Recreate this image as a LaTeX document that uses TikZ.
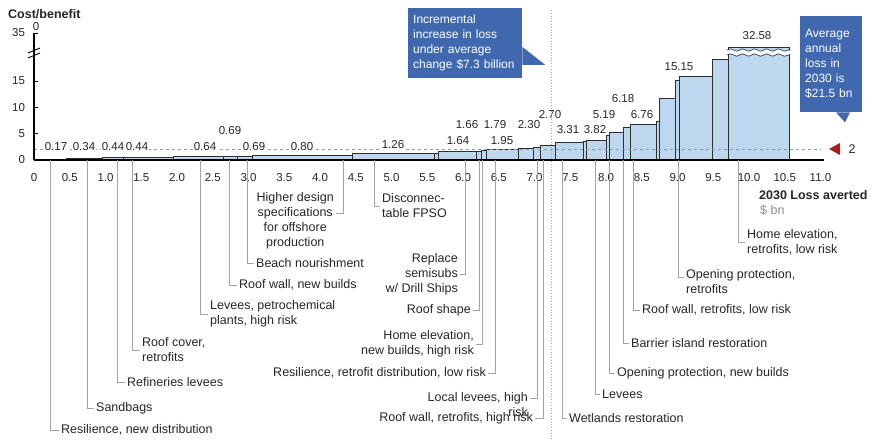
\documentclass[tikz,border=0pt]{standalone}
\usepackage{fontspec}
\setmainfont{Liberation Sans}
\usetikzlibrary{decorations.pathmorphing}
\definecolor{barblue}{HTML}{BDD7EE}
\definecolor{baredge}{HTML}{2E2E2E}
\definecolor{calloutblue}{HTML}{4068AE}
\definecolor{leadgray}{HTML}{A3A3A3}
\definecolor{refgray}{HTML}{8C99A8}
\definecolor{markred}{HTML}{A32020}

\begin{document}
\begin{tikzpicture}[x=1pt, y=-1pt,
    costbar/.style={draw=baredge, line width=0.6pt, fill=barblue},
    leader/.style={draw=leadgray, line width=0.8pt},
    lbl/.style={font=\fontsize{12.5}{15}\selectfont, text=black!85, inner sep=2pt},
    val/.style={font=\fontsize{11.5}{13}\selectfont, text=black!85, inner sep=1pt},
    tick/.style={font=\fontsize{11.5}{13}\selectfont, text=black!85, inner sep=1pt},
    callout/.style={fill=calloutblue, text=white, align=left, inner sep=5pt,
      font=\fontsize{12}{15}\selectfont},
    wavy/.style={decorate, decoration={snake, segment length=12pt, amplitude=1.2pt}}]

\useasboundingbox (0,0) rectangle (873,441);

% bars: width = loss averted, height = cost/benefit
\begin{scope}[shift={(34,160)}, x=71.5pt, y=5.27pt]
  \foreach \a/\b/\v in {0/0.45/0.17, 0.45/0.95/0.34, 0.95/1.25/0.44, 1.25/1.95/0.44,
      1.95/2.65/0.64, 2.65/2.85/0.69, 2.85/3.06/0.69, 3.06/4.45/0.80, 4.45/5.6/1.26,
      5.6/5.65/1.3, 5.65/6.18/1.64, 6.18/6.25/1.66, 6.25/6.32/1.79, 6.32/6.77/1.95,
      6.77/6.98/2.30, 6.98/7.08/2.45, 7.08/7.29/2.70, 7.29/7.68/3.31, 7.68/7.73/3.5,
      7.73/8.0/3.82, 8.0/8.05/4.6, 8.05/8.24/5.19, 8.24/8.34/6.18, 8.34/8.71/6.76,
      8.71/8.74/7.4, 8.74/8.97/11.8, 8.97/9.03/15.15, 9.03/9.48/15.8, 9.48/9.71/19.1}
    \draw[costbar] (\a,0) rectangle (\b,\v);
  % the tall bar, cut
  \draw[costbar] (9.71,0) rectangle (10.56,21.4);
  \draw[white, line width=4pt, wavy] (9.69,20.4) -- (10.58,20.4);
  \draw[baredge, line width=0.6pt, wavy] (9.69,19.92) -- (10.58,19.92);
  \draw[baredge, line width=0.6pt, wavy] (9.69,20.87) -- (10.58,20.87);
  % level 2
  \draw[refgray, line width=0.8pt, dash pattern=on 3pt off 3pt] (0,2) -- (11.0,2);
  % axes
  \draw[line width=1.6pt] (0,0) -- (11.05,0);
  \draw[line width=1.6pt] (0,0) -- (0,24.1);
  \foreach \v in {5,10,15,24.1}
    \draw[line width=0.8pt] (0,\v) -- ++(4pt,0);
  \foreach \v in {0,5,10,15}
    \node[tick, anchor=east] (ylab\v) at (-0.11,\v) {\v};
  \node[tick, anchor=east] (ylab35) at (-0.11,24.1) {35};
  \foreach \t [count=\i] in {0,0.5,1.0,1.5,2.0,2.5,3.0,3.5,4.0,4.5,5.0,5.5,6.0,6.5,
      7.0,7.5,8.0,8.5,9.0,9.5,10.0,10.5,11.0}
    \node[tick] (xlab\i) at (\t,-3.4) {\t};
\end{scope}

% axis break
\draw[line width=0.9pt] (28,53) -- (40,48);
\draw[line width=0.9pt] (28,58) -- (40,53);

\node[lbl, font=\fontsize{12.5}{15}\selectfont\bfseries, anchor=west] (ytitle) at (6,14) {Cost/benefit};
\node[val] (topzero) at (36,27) {0};
\node[lbl, font=\fontsize{12.5}{15}\selectfont\bfseries, anchor=west] (xtitle) at (757,195) {2030 Loss averted};
\node[lbl, text=black!45, anchor=west] (xunit) at (758,210) {\$ bn};

% values over the bars
\foreach \px/\py/\v/\bg [count=\i] in {56/147/0.17/white, 84/147/0.34/white,
    113/147/0.44/white, 137/147/0.44/white, 205/147/0.64/white, 230/131/0.69/none,
    254/147/0.69/white, 302/147/0.80/white, 393/145/1.26/white, 458/141/1.64/none,
    467/125/1.66/none, 495/125/1.79/none, 502/141/1.95/none, 529/125/2.30/none,
    550/115/2.70/none, 568/130/3.31/none, 595/130/3.82/none, 604/115/5.19/none,
    623/99/6.18/none, 642/115/6.76/none, 679/67/15.15/none, 757/36/32.58/none}
  \node[val, fill=\bg] (val\i) at (\px,\py) {\v};

% measures
\node[lbl, anchor=west] (resnew) at (59,430) {Resilience, new distribution};
\node[lbl, anchor=west] (sandbags) at (94,408) {Sandbags};
\node[lbl, anchor=west] (reflev) at (125,382) {Refineries levees};
\node[lbl, anchor=west, align=left] (roofcov) at (140,350) {Roof cover,\\retrofits};
\node[lbl, anchor=west, align=left] (petro) at (208,314) {Levees, petrochemical\\plants, high risk};
\node[lbl, anchor=west] (roofnew) at (237,285) {Roof wall, new builds};
\node[lbl, anchor=west] (beach) at (254,263) {Beach nourishment};
\node[lbl, anchor=east, align=center] (hds) at (336,221) {Higher design\\specifications\\for offshore\\production};
\node[lbl, anchor=west, align=left] (fpso) at (380,206) {Disconnec-\\table FPSO};
\node[lbl, anchor=east, align=right] (semisubs) at (460,274) {Replace\\semisubs\\w/ Drill Ships};
\node[lbl, anchor=east] (roofshape) at (473,310) {Roof shape};
\node[lbl, anchor=east, align=right] (homenew) at (476,344) {Home elevation,\\new builds, high risk};
\node[lbl, anchor=east] (resretro) at (488,373) {Resilience, retrofit distribution, low risk};
\node[lbl, anchor=east, align=right] (loclev) at (530,405) {Local levees, high\\risk};
\node[lbl, anchor=east] (roofhigh) at (535,418) {Roof wall, retrofits, high risk};
\node[lbl, anchor=west] (wetlands) at (567,418) {Wetlands restoration};
\node[lbl, anchor=west] (levees) at (600,394) {Levees};
\node[lbl, anchor=west] (opennew) at (615,373) {Opening protection, new builds};
\node[lbl, anchor=west] (barrier) at (629,343) {Barrier island restoration};
\node[lbl, anchor=west] (rooflow) at (640,310) {Roof wall, retrofits, low risk};
\node[lbl, anchor=west, align=left] (openretro) at (684,282) {Opening protection,\\retrofits};
\node[lbl, anchor=west, align=left] (homeretro) at (745,242) {Home elevation,\\retrofits, low risk};

\foreach \px/\lbl in {50/resnew, 87/sandbags, 117/reflev, 132/roofcov, 200/petro,
    229/roofnew, 247/beach, 374/fpso, 465/semisubs, 479/roofshape, 482/homenew,
    495/resretro, 543/roofhigh, 562/wetlands, 595/levees, 609/opennew, 623/barrier,
    633/rooflow, 738/homeretro}
  {\coordinate (top-\lbl) at (\px,160);
   \draw[leader] (top-\lbl) |- (\lbl);}
\coordinate (top-hds) at (343,160);
\coordinate (top-loclev) at (537,160);
\coordinate (top-openretro) at (678,160);
\draw[leader] (top-hds) |- ([yshift=8pt]hds.east);
\draw[leader] (top-loclev) |- ([yshift=7pt]loclev.east);
\draw[leader] (top-openretro) |- ([yshift=5pt]openretro.west);

% reference line
\draw[leadgray, line width=0.8pt, dotted] (551,10) -- (551,441);

% callouts
\node[callout, text width=104pt, minimum height=70pt, anchor=north west] (incr) at (408,8)
  {Incremental\\increase in loss\\under average\\change \$7.3 billion};
\fill[calloutblue] ([yshift=-39pt]incr.north east) -- ++(23,18) -- ++(-23,0) -- cycle;
\node[callout, text width=52pt, minimum height=96pt, anchor=north west] (avgloss) at (800,16)
  {Average\\annual\\loss in\\2030 is\\\$21.5 bn};
\fill[calloutblue] ([xshift=36pt]avgloss.south west) -- ++(9,10) -- ++(5,-10) -- cycle;

% marker at 2
\fill[markred] (840,143) -- (829,149) -- (840,155) -- cycle;
\node[lbl] (two) at (852,149) {2};
\end{tikzpicture}
\end{document}
